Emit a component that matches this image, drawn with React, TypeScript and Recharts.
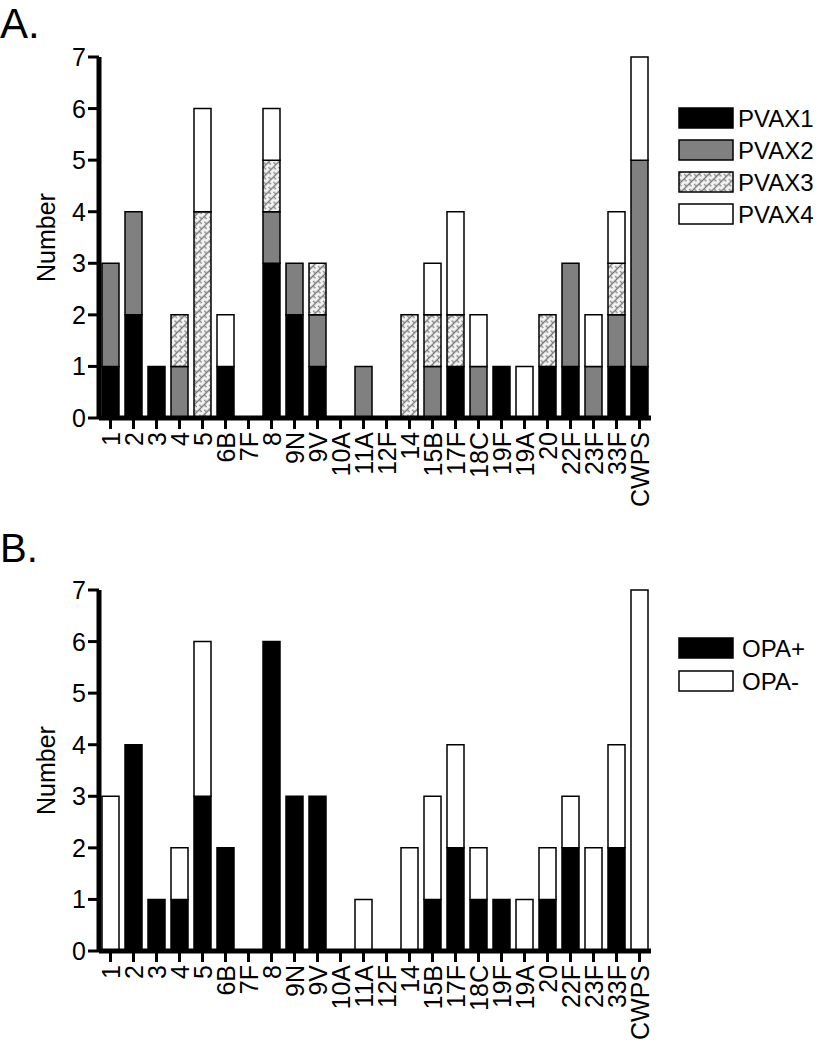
import React from "react";
import { BarChart, Bar, XAxis, YAxis } from "recharts";

const categories = ["1","2","3","4","5","6B","7F","8","9N","9V","10A","11A","12F","14","15B","17F","18C","19F","19A","20","22F","23F","33F","CWPS"];
const pvax1 = [1,2,1,0,0,1,0,3,2,1,0,0,0,0,0,1,0,1,0,1,1,0,1,1];
const pvax2 = [2,2,0,1,0,0,0,1,1,1,0,1,0,0,1,0,1,0,0,0,2,1,1,4];
const pvax3 = [0,0,0,1,4,0,0,1,0,1,0,0,0,2,1,1,0,0,0,1,0,0,1,0];
const pvax4 = [0,0,0,0,2,1,0,1,0,0,0,0,0,0,1,2,1,0,1,0,0,1,1,2];
const opaPos = [0,4,1,1,3,2,0,6,3,3,0,0,0,0,1,2,1,1,0,1,2,0,2,0];
const opaNeg = [3,0,0,1,3,0,0,0,0,0,0,1,0,2,2,2,1,0,1,1,1,2,2,7];
const yTicks = [0,1,2,3,4,5,6,7];
const seriesA = ["PVAX1","PVAX2","PVAX3","PVAX4"];
const seriesB = ["OPA+","OPA-"];

const dataA = categories.map((name, i) => ({ name, PVAX1: pvax1[i], PVAX2: pvax2[i], PVAX3: pvax3[i], PVAX4: pvax4[i] }));
const dataB = categories.map((name, i) => ({ name, "OPA+": opaPos[i], "OPA-": opaNeg[i] }));

const FONT = "'Liberation Sans', Arial, sans-serif";
const fillsA: Record<string, string> = { PVAX1: "#000000", PVAX2: "#808080", PVAX3: "url(#hatch)", PVAX4: "#ffffff" };
const fillsB: Record<string, string> = { "OPA+": "#000000", "OPA-": "#ffffff" };

const XTick = (props: any) => {
  const { x, y, payload } = props;
  return (
    <g transform={`translate(${x},${y})`}>
      <text transform="rotate(-90)" textAnchor="end" dy="0.36em" fontSize={25} fontFamily={FONT} fill="#000">
        {payload.value}
      </text>
    </g>
  );
};

const YTick = (props: any) => {
  const { x, y, payload } = props;
  return (
    <text x={x} y={y} dy="0.36em" textAnchor="end" fontSize={25} fontFamily={FONT} fill="#000">
      {payload.value}
    </text>
  );
};

const HatchDefs = () => (
  <defs>
    <pattern id="hatch" patternUnits="userSpaceOnUse" width="7" height="7" patternTransform="rotate(-45)">
      <rect width="7" height="7" fill="#f4f4f4" />
      <line x1="0" y1="3.5" x2="7" y2="3.5" stroke="#777" strokeWidth="1.4" />
      <line x1="1.75" y1="0" x2="1.75" y2="3.5" stroke="#777" strokeWidth="1.1" />
      <line x1="5.25" y1="3.5" x2="5.25" y2="7" stroke="#777" strokeWidth="1.1" />
    </pattern>
  </defs>
);

function Panel({ data, series, fills, top }: any) {
  return (
    <div style={{ position: "absolute", left: 0, top, width: 826, height: 520 }}>
      <BarChart width={826} height={520} data={data} margin={{ top: 57, right: 175, left: 0, bottom: 0 }} barSize={17} barCategoryGap={0}>
        <HatchDefs />
        <XAxis
          dataKey="name"
          interval={0}
          tick={<XTick />}
          tickSize={11}
          tickMargin={3}
          axisLine={{ stroke: "#000", strokeWidth: 5 }}
          tickLine={{ stroke: "#000", strokeWidth: 3 }}
          height={102}
        />
        <YAxis
          domain={[0, 7]}
          ticks={yTicks}
          interval={0}
          width={99}
          tick={<YTick />}
          tickSize={11}
          tickMargin={2}
          axisLine={{ stroke: "#000", strokeWidth: 5 }}
          tickLine={{ stroke: "#000", strokeWidth: 3 }}
          label={{ value: "Number", angle: -90, position: "insideLeft", offset: 0, dx: 46, textAnchor: "middle", fontSize: 25, fontFamily: FONT, fill: "#000" }}
        />
        {series.map((s: string) => (
          <Bar key={s} dataKey={s} stackId="a" fill={fills[s]} stroke="#000" strokeWidth={1.5} isAnimationActive={false} />
        ))}
      </BarChart>
    </div>
  );
}

function LegendBox({ series, fills, left, top, gap, textX }: any) {
  return (
    <svg style={{ position: "absolute", left, top: top - 6 }} width={826 - left} height={gap * series.length + 16}>
      <HatchDefs />
      {series.map((s: string, i: number) => (
        <g key={s}>
          <rect x={1} y={7 + i * gap} width={54} height={20} fill={fills[s]} stroke="#000" strokeWidth={1.5} />
          <text x={textX} y={17 + i * gap} dy="0.36em" fontSize={24} fontFamily={FONT} fill="#000">{s}</text>
        </g>
      ))}
    </svg>
  );
}

export default function App() {
  return (
    <div style={{ position: "absolute", left: 0, top: 0, width: 826, height: 1050, background: "#fff", fontFamily: FONT }}>
      <div style={{ position: "absolute", left: 0, top: 0, fontSize: 42, lineHeight: "normal", fontFamily: FONT, color: "#000" }}>A.</div>
      <div style={{ position: "absolute", left: 0, top: 526, fontSize: 40, lineHeight: "normal", fontFamily: FONT, color: "#000" }}>B.</div>
      <Panel data={dataA} series={seriesA} fills={fillsA} top={0} />
      <Panel data={dataB} series={seriesB} fills={fillsB} top={533} />
      <LegendBox series={seriesA} fills={fillsA} left={678} top={107} gap={32} textX={60} />
      <LegendBox series={seriesB} fills={fillsB} left={678} top={637} gap={33} textX={64} />
    </div>
  );
}
